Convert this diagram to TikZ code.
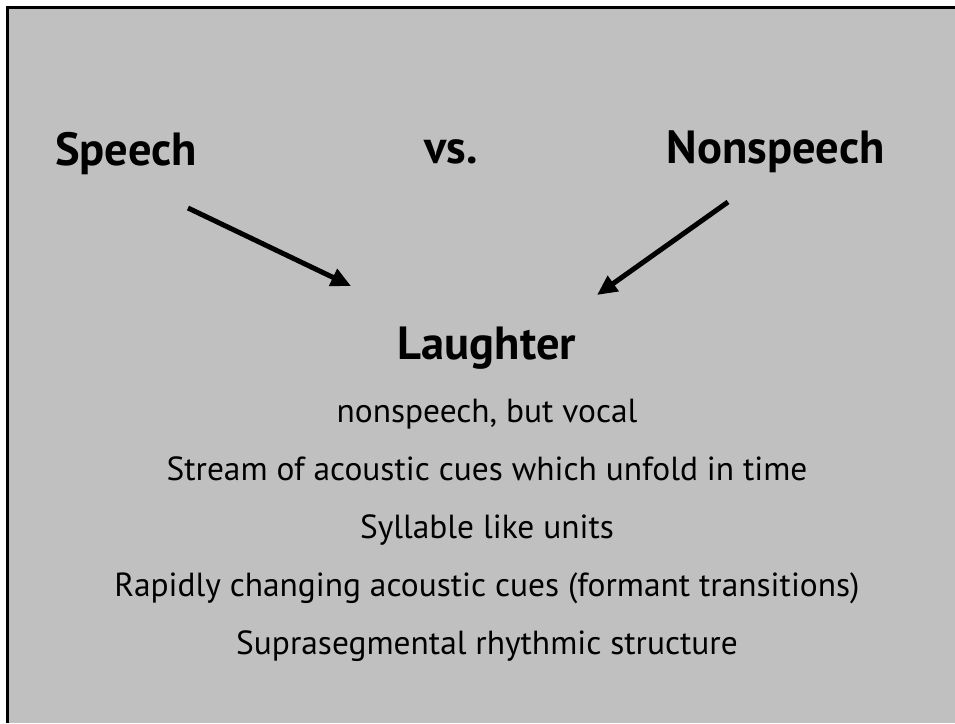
\documentclass[tikz,border=0pt]{standalone}
\usepackage{fontspec}
\setmainfont{PT Sans}
\usepackage{tikz}
\usetikzlibrary{arrows.meta, positioning}
\definecolor{slidegray}{RGB}{192,192,192}
\tikzset{x=1pt, y=-1pt,
         title/.style={ % Bold words on top and the centre heading
           font=\bfseries\fontsize{46.5}{54}\selectfont,
           inner sep=0pt},
         point/.style={ % Lines of text below the heading
           font=\fontsize{33.4}{40}\selectfont,
           inner sep=0pt, anchor=base},
         pointer/.style={ % Thick arrows into the heading
           draw, line width=5pt,
           -{Triangle[length=20pt,width=18pt]}}}

\begin{document}
\begin{tikzpicture}
\useasboundingbox (0,0) rectangle (955,723);
\fill[slidegray] (7,7) rectangle (955,723);
\draw[line width=3pt] (7,723) -- (7,7) -- (955,7);

\node[title, anchor=base west] (speech) at (55,165) {Speech};
\node[title, anchor=base] (vs) at (451,163) {vs.};
\node[title, anchor=base east] (nonspeech) at (885,163) {Nonspeech};
\node[title, anchor=base] (laughter) at (487,359) {Laughter};

\node[point] (vocal) at (487,422) {nonspeech, but vocal};
\node[point] (stream) at (487,480) {Stream of acoustic cues which unfold in time};
\node[point] (syllable) at (487,538) {Syllable like units};
\node[point] (rapid) at (487,596) {Rapidly changing acoustic cues (formant transitions)};
\node[point] (supra) at (487,654) {Suprasegmental rhythmic structure};

\coordinate (speech tail) at (188,208);
\coordinate (speech tip) at (351,286);
\coordinate (nonspeech tail) at (728,202);
\coordinate (nonspeech tip) at (597,295);

\draw[pointer] (speech tail) -- (speech tip);
\draw[pointer] (nonspeech tail) -- (nonspeech tip);

\end{tikzpicture}
\end{document}
